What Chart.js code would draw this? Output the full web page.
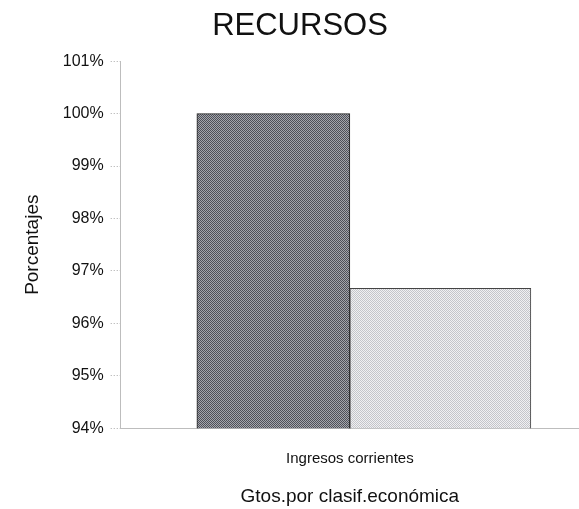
<!DOCTYPE html>
<html>
<head>
<meta charset="utf-8">
<script src="https://cdn.jsdelivr.net/npm/chart.js@4.4.1/dist/chart.umd.min.js"></script>
<style>
  html, body { margin: 0; padding: 0; background: #fff; }
  #wrap { width: 579px; height: 509px; }
</style>
</head>
<body>
<div id="wrap"><canvas id="chart"></canvas></div>
<script>
// chart data
const categories = ["Ingresos corrientes"];
const seriesNames = ["Serie 1", "Serie 2"];
const darkValues = [100];
const lightValues = [96.67];
const yTicks = [94, 95, 96, 97, 98, 99, 100, 101];

// checkered fill, like the scanned halftone
const makePattern = (a, b) => {
  const c = document.createElement("canvas");
  c.width = 2;
  c.height = 2;
  const g = c.getContext("2d");
  g.fillStyle = a;
  g.fillRect(0, 0, 2, 2);
  g.fillStyle = b;
  g.fillRect(0, 0, 1, 1);
  g.fillRect(1, 1, 1, 1);
  return g.createPattern(c, "repeat");
};

const font = "'Liberation Sans', Arial, sans-serif";

const ctx = document.getElementById("chart").getContext("2d");
new Chart(ctx, {
  type: "bar",
  data: {
    labels: categories,
    datasets: [
      {
        label: seriesNames[0],
        data: darkValues,
        backgroundColor: makePattern("#a4a6ac", "#4e5058"),
        borderColor: "#222",
        borderWidth: 1,
        barThickness: 153,
      },
      {
        label: seriesNames[1],
        data: lightValues,
        backgroundColor: makePattern("#f0f0f2", "#c4c5ca"),
        borderColor: "#444",
        borderWidth: 1,
        barThickness: 181,
      },
    ],
  },
  options: {
    responsive: true,
    maintainAspectRatio: false,
    animation: false,
    layout: { padding: { left: 21, right: 0, top: 4, bottom: 1 } },
    plugins: {
      legend: { display: false },
      tooltip: { enabled: false },
      title: {
        display: true,
        text: "RECURSOS",
        color: "#111",
        font: { family: font, size: 31, weight: "normal" },
        padding: { top: 4, bottom: 16 },
      },
    },
    scales: {
      x: {
        grid: { display: false, tickLength: 5 },
        border: { display: true, color: "#bdbdbd", dash: [1, 2] },
        ticks: {
          color: "#111",
          padding: 17,
          font: { family: font, size: 15 },
        },
        title: {
          display: true,
          text: "Gtos.por clasif.económica",
          color: "#111",
          font: { family: font, size: 19 },
          padding: { top: 0, bottom: 0 },
        },
      },
      y: {
        min: yTicks[0],
        max: yTicks[yTicks.length - 1],
        afterBuildTicks: (axis) => {
          axis.ticks = yTicks.map((v) => ({ value: v }));
        },
        grid: {
          drawOnChartArea: false,
          drawTicks: true,
          tickLength: 10,
          tickColor: "#a8a8a8",
          tickBorderDash: [1, 2],
        },
        border: { display: true, color: "#bdbdbd", dash: [1, 2] },
        ticks: {
          color: "#111",
          padding: 7,
          font: { family: font, size: 16 },
          callback: (v) => v + "%",
        },
        title: {
          display: true,
          text: "Porcentajes",
          color: "#111",
          font: { family: font, size: 19 },
          padding: { top: 0, bottom: 12 },
        },
      },
    },
  },
});
</script>
</body>
</html>
